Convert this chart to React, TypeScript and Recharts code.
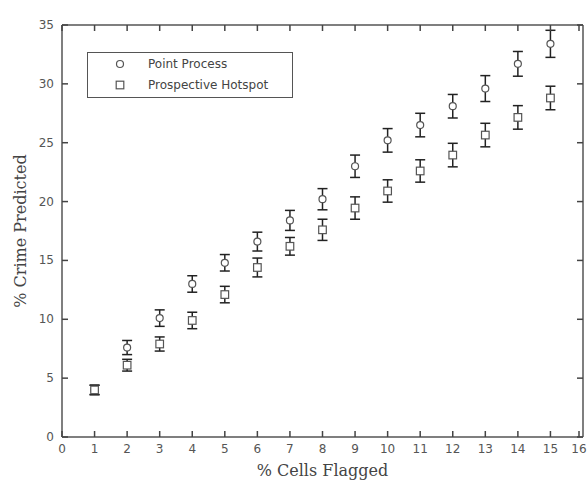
import React from 'react';
import { ScatterChart, Scatter, XAxis, YAxis, ZAxis, ErrorBar, Legend } from 'recharts';

const cellsFlagged = [1, 2, 3, 4, 5, 6, 7, 8, 9, 10, 11, 12, 13, 14, 15];
const pointProcess = [4.0, 7.6, 10.1, 13.0, 14.8, 16.6, 18.4, 20.2, 23.0, 25.2, 26.5, 28.1, 29.6, 31.7, 33.4];
const pointProcessErr = [0.4, 0.6, 0.7, 0.7, 0.7, 0.8, 0.85, 0.9, 0.95, 1.0, 1.0, 1.0, 1.1, 1.05, 1.15];
const hotspot = [4.0, 6.1, 7.9, 9.9, 12.1, 14.4, 16.2, 17.6, 19.45, 20.9, 22.6, 23.95, 25.65, 27.15, 28.8];
const hotspotErr = [0.4, 0.5, 0.6, 0.7, 0.7, 0.8, 0.75, 0.9, 0.95, 0.95, 0.95, 1.0, 1.0, 1.0, 1.0];

const xTicks = [0, 1, 2, 3, 4, 5, 6, 7, 8, 9, 10, 11, 12, 13, 14, 15, 16];
const yTicks = [0, 5, 10, 15, 20, 25, 30, 35];

const ppData = cellsFlagged.map((x, i) => ({ x, y: pointProcess[i], err: pointProcessErr[i] }));
const hsData = cellsFlagged.map((x, i) => ({ x, y: hotspot[i], err: hotspotErr[i] }));

const frame = '#555';
const tickColor = '#444';
const markColor = '#555';
const tickText = { fontFamily: 'DejaVu Sans', fontSize: 12, fill: '#555' };
const titleText = { fontFamily: 'DejaVu Serif', fontSize: 16, fill: '#444' };

// inward tick marks, drawn together with the labels
const BottomTick = (p: any) => (
  <g>
    <path d={`M${p.x},${p.y}v-6`} style={{ stroke: tickColor, strokeWidth: 1.5 }} fill="none" />
    <text x={p.x} y={p.y + 16} textAnchor="middle" style={tickText}>{p.payload.value}</text>
  </g>
);
const LeftTick = (p: any) => (
  <g>
    <path d={`M${p.x},${p.y}h6`} style={{ stroke: tickColor, strokeWidth: 1.5 }} fill="none" />
    <text x={p.x - 8} y={p.y + 4} textAnchor="end" style={tickText}>{p.payload.value}</text>
  </g>
);
const TopTick = (p: any) => (
  <path d={`M${p.x},${p.y}v6`} style={{ stroke: tickColor, strokeWidth: 1.5 }} fill="none" />
);
const RightTick = (p: any) => (
  <path d={`M${p.x},${p.y}h-6`} style={{ stroke: tickColor, strokeWidth: 1.5 }} fill="none" />
);

const circleShape = (p: any) => (
  <circle cx={p.cx} cy={p.cy} r={3.5} fill="#fff" stroke={markColor} strokeWidth={1.2} />
);
const squareShape = (p: any) => (
  <rect x={p.cx - 3.8} y={p.cy - 3.8} width={7.6} height={7.6} fill="#fff" stroke={markColor} strokeWidth={1.2} />
);

const LegendBox = () => (
  <div style={{ width: 206, height: 46, boxSizing: 'border-box', border: `1px solid ${frame}`, background: '#fff', position: 'relative', fontFamily: 'DejaVu Sans', fontSize: 12, color: '#444' }}>
    <svg width={206} height={46} style={{ position: 'absolute', left: -1, top: -1 }}>
      <circle cx={33} cy={12} r={3.5} fill="none" stroke={markColor} strokeWidth={1.2} />
      <rect x={29.2} y={29.2} width={7.6} height={7.6} fill="none" stroke={markColor} strokeWidth={1.2} />
    </svg>
    <div style={{ position: 'absolute', left: 60, top: 4 }}>Point Process</div>
    <div style={{ position: 'absolute', left: 60, top: 25 }}>Prospective Hotspot</div>
  </div>
);

const YTitle = (props: any) => {
  const vb = props.viewBox;
  const cx = vb.x + 20;
  const cy = vb.y + vb.height / 2;
  return (
    <text x={cx} y={cy} transform={`rotate(-90, ${cx}, ${cy})`} textAnchor="middle" dominantBaseline="central" style={titleText}>
      % Crime Predicted
    </text>
  );
};

export default function App() {
  return (
    <div style={{ position: 'absolute', left: 0, top: 0, background: '#fff' }}>
      <ScatterChart width={587} height={488} margin={{ top: 24, right: 3, bottom: 0, left: 0 }}>
        <ZAxis range={[60, 60]} />
        <XAxis xAxisId="bottom" dataKey="x" type="number" domain={[0, 16]} ticks={xTicks} height={51}
          tickSize={0} tickMargin={0} tickLine={false} tick={<BottomTick />}
          axisLine={{ stroke: frame, strokeWidth: 1.5 }}
          label={{ value: '% Cells Flagged', position: 'insideBottom', offset: 12, style: titleText }} />
        <XAxis xAxisId="top" orientation="top" dataKey="x" type="number" domain={[0, 16]} ticks={xTicks} height={1}
          tickSize={0} tickMargin={0} tickLine={false} tick={<TopTick />}
          axisLine={{ stroke: frame, strokeWidth: 1.5 }} />
        <YAxis yAxisId="left" dataKey="y" type="number" domain={[0, 35]} ticks={yTicks} width={62}
          tickSize={0} tickMargin={0} tickLine={false} tick={<LeftTick />}
          axisLine={{ stroke: frame, strokeWidth: 1.5 }}
          label={{ content: <YTitle /> }} />
        <YAxis yAxisId="right" orientation="right" dataKey="y" type="number" domain={[0, 35]} ticks={yTicks} width={1}
          tickSize={0} tickMargin={0} tickLine={false} tick={<RightTick />}
          axisLine={{ stroke: frame, strokeWidth: 1.5 }} />
        <Legend layout="vertical" align="center" verticalAlign="middle" content={<LegendBox />}
          wrapperStyle={{ position: 'absolute', left: 87, top: 52, width: 206, height: 46 }} />
        <Scatter name="Point Process" xAxisId="bottom" yAxisId="left" data={ppData} shape={circleShape} isAnimationActive={false}>
          <ErrorBar dataKey="err" direction="y" width={5} stroke="#222" strokeWidth={1.5} />
        </Scatter>
        <Scatter name="Prospective Hotspot" xAxisId="top" yAxisId="right" data={hsData} shape={squareShape} isAnimationActive={false}>
          <ErrorBar dataKey="err" direction="y" width={5} stroke="#222" strokeWidth={1.5} />
        </Scatter>
      </ScatterChart>
    </div>
  );
}
